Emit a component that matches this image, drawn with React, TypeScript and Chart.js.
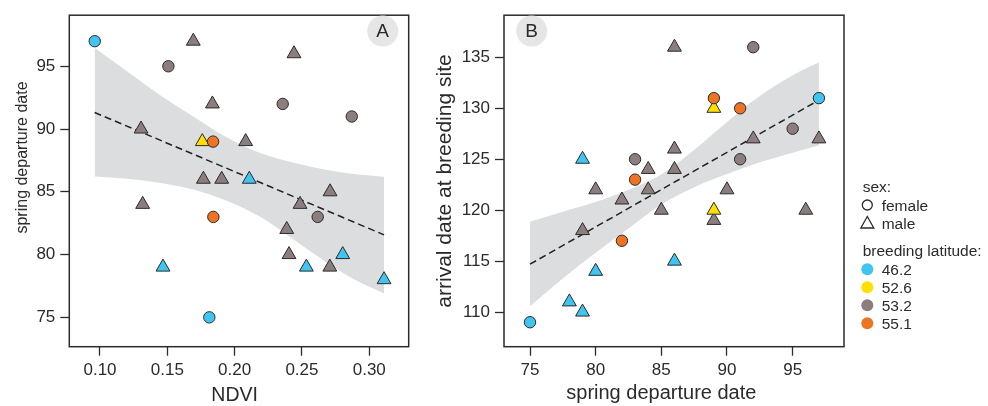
import { useEffect, useRef } from "react";
import { Chart, registerables } from "chart.js";

Chart.register(...registerables);

const FONT = '"Liberation Sans", Arial, Helvetica, sans-serif';
const INK = "#2b2b2b";
const BAND = "#DCDDDF";
const BADGE = "#E6E6E7";

// breeding latitude classes and their fill colours
const LATITUDES = ["46.2", "52.6", "53.2", "55.1"];
const LATITUDE_COLORS = ["#3FC5F0", "#FFDE00", "#8C7E7F", "#EE7423"];

// ---- Panel A: NDVI vs spring departure date ----
const A_NDVI = [0.0961, 0.1693, 0.1508, 0.2441, 0.1835, 0.2357, 0.287, 0.1305, 0.176, 0.184, 0.2082, 0.1768, 0.1904, 0.2109, 0.2709, 0.2486, 0.1317, 0.1842, 0.2617, 0.2387, 0.2404, 0.2803, 0.1468, 0.2533, 0.2707, 0.311, 0.1812];
const A_DEPARTURE = [97, 97, 95, 96, 92, 92, 91, 90, 89, 89, 89, 86, 86, 86, 85, 84, 84, 83, 83, 82, 80, 80, 79, 79, 79, 78, 75];
const A_SEX = ["f", "m", "f", "m", "m", "f", "f", "m", "m", "f", "m", "m", "m", "m", "m", "m", "m", "f", "f", "m", "m", "m", "m", "m", "m", "m", "f"];
const A_LAT = ["46.2", "53.2", "53.2", "53.2", "53.2", "53.2", "53.2", "53.2", "52.6", "55.1", "53.2", "53.2", "53.2", "46.2", "53.2", "53.2", "53.2", "55.1", "53.2", "53.2", "53.2", "46.2", "46.2", "46.2", "53.2", "46.2", "46.2"];
const A_FIT_X = [0.096, 0.311];
const A_FIT_Y = [91.32, 81.57];
const A_BAND_X = [0.096, 0.12, 0.145, 0.17, 0.195, 0.22, 0.245, 0.27, 0.29, 0.311];
const A_BAND_LOW = [86.22, 86.05, 85.71, 85.17, 84.25, 82.95, 81.1, 79.25, 77.95, 76.9];
const A_BAND_HIGH = [96.45, 94.6, 92.67, 90.96, 89.28, 88.05, 87.29, 86.71, 86.4, 86.2];
const A_X_TICKS = [0.1, 0.15, 0.2, 0.25, 0.3];
const A_Y_TICKS = [75, 80, 85, 90, 95];

// ---- Panel B: spring departure date vs arrival date at breeding site ----
const B_DEPARTURE = [86, 92, 89, 89, 91, 97, 95, 92, 97, 86, 79, 83, 91, 84, 86, 83, 80, 84, 90, 82, 85, 89, 89, 96, 79, 82, 86, 80, 78, 79, 75];
const B_ARRIVAL = [136, 136, 130, 131, 130, 131, 128, 127, 127, 126, 125, 125, 125, 124, 124, 123, 122, 122, 122, 121, 120, 119, 120, 120, 118, 117, 115, 114, 111, 110, 109];
const B_SEX = ["m", "f", "m", "f", "f", "f", "f", "m", "m", "m", "m", "f", "f", "m", "m", "f", "m", "m", "m", "m", "m", "m", "m", "m", "m", "f", "m", "m", "m", "m", "f"];
const B_LAT = ["53.2", "53.2", "52.6", "55.1", "55.1", "46.2", "53.2", "53.2", "53.2", "53.2", "46.2", "53.2", "53.2", "53.2", "53.2", "55.1", "53.2", "53.2", "53.2", "53.2", "53.2", "53.2", "52.6", "53.2", "53.2", "55.1", "46.2", "46.2", "46.2", "46.2", "46.2"];
const B_FIT_X = [75, 97];
const B_FIT_Y = [114.7, 130.8];
const B_BAND_X = [75, 77.5, 80, 82.5, 85, 87.5, 90, 92.5, 95, 97];
const B_BAND_LOW = [110.58, 113.3, 115.82, 118.2, 120.55, 122.25, 123.55, 124.7, 125.65, 126.35];
const B_BAND_HIGH = [118.86, 119.85, 120.8, 122.0, 123.5, 125.9, 128.65, 131.2, 133.25, 134.5];
const B_X_TICKS = [75, 80, 85, 90, 95];
const B_Y_TICKS = [110, 115, 120, 125, 130, 135];

const colorOf = (lat: string) => LATITUDE_COLORS[LATITUDES.indexOf(lat)];
const pairs = (xs: number[], ys: number[]) => xs.map((x, i) => ({ x, y: ys[i] }));

type PanelSpec = {
  width: number;
  height: number;
  area: { left: number; top: number; right: number; bottom: number };
  xRange: [number, number];
  yRange: [number, number];
  xTicks: number[];
  yTicks: number[];
  xDecimals: number;
  xs: number[];
  ys: number[];
  sex: string[];
  lat: string[];
  fitX: number[];
  fitY: number[];
  bandX: number[];
  bandLow: number[];
  bandHigh: number[];
  letter: string;
  badge: { x: number; y: number };
  xTitle: { text: string; size: number; baseline: number };
  yTitle: { text: string; size: number; cx: number; cy: number };
};

function buildChart(canvas: HTMLCanvasElement, s: PanelSpec) {
  const decor = {
    id: "panelDecor",
    afterDraw(chart: any) {
      const { ctx, chartArea: a } = chart;
      ctx.save();
      ctx.strokeStyle = INK;
      ctx.lineWidth = 1.5;
      ctx.strokeRect(a.left, a.top, a.right - a.left, a.bottom - a.top);

      ctx.fillStyle = BADGE;
      ctx.beginPath();
      ctx.arc(s.badge.x, s.badge.y, 15.5, 0, Math.PI * 2);
      ctx.fill();
      ctx.fillStyle = INK;
      ctx.font = `19px ${FONT}`;
      ctx.textAlign = "center";
      ctx.textBaseline = "middle";
      ctx.fillText(s.letter, s.badge.x, s.badge.y + 1);

      const xs = chart.scales.x;
      const cx = (xs.getPixelForValue(s.xTicks[0]) + xs.getPixelForValue(s.xTicks[s.xTicks.length - 1])) / 2;
      ctx.font = `${s.xTitle.size}px ${FONT}`;
      ctx.textBaseline = "alphabetic";
      ctx.fillText(s.xTitle.text, cx, s.xTitle.baseline);

      ctx.translate(s.yTitle.cx, s.yTitle.cy);
      ctx.rotate(-Math.PI / 2);
      ctx.font = `${s.yTitle.size}px ${FONT}`;
      ctx.textBaseline = "middle";
      ctx.fillText(s.yTitle.text, 0, 0);
      ctx.restore();
    },
  };

  const tickFont = { family: FONT, size: 17 };
  const grid = {
    display: true,
    drawOnChartArea: false,
    drawTicks: true,
    tickLength: 9,
    tickColor: INK,
    tickWidth: 1.3,
  };

  return new Chart(canvas, {
    type: "scatter",
    data: {
      datasets: [
        {
          type: "line",
          data: pairs(s.bandX, s.bandLow),
          borderWidth: 0,
          pointRadius: 0,
          cubicInterpolationMode: "monotone",
          fill: false,
          order: 3,
        },
        {
          type: "line",
          data: pairs(s.bandX, s.bandHigh),
          borderWidth: 0,
          pointRadius: 0,
          cubicInterpolationMode: "monotone",
          backgroundColor: BAND,
          fill: "-1",
          order: 3,
        },
        {
          type: "line",
          data: pairs(s.fitX, s.fitY),
          borderColor: "#222",
          borderWidth: 1.5,
          borderDash: [7, 4],
          pointRadius: 0,
          fill: false,
          order: 2,
        },
        {
          type: "scatter",
          data: pairs(s.xs, s.ys),
          pointStyle: s.sex.map((g) => (g === "f" ? "circle" : "triangle")),
          pointRadius: s.sex.map((g) => (g === "f" ? 5.7 : 8)),
          backgroundColor: s.lat.map(colorOf),
          borderColor: INK,
          borderWidth: 1,
          order: 1,
        },
      ],
    } as any,
    options: {
      animation: false,
      responsive: false,
      events: [],
      layout: {
        padding: {
          left: 0,
          top: s.area.top,
          right: s.width - s.area.right,
          bottom: 0,
        },
      },
      plugins: { legend: { display: false }, tooltip: { enabled: false } },
      scales: {
        x: {
          type: "linear",
          min: s.xRange[0],
          max: s.xRange[1],
          afterBuildTicks: (sc: any) => {
            sc.ticks = s.xTicks.map((v) => ({ value: v }));
          },
          afterFit: (sc: any) => {
            sc.height = s.height - s.area.bottom;
          },
          ticks: {
            font: tickFont,
            color: INK,
            padding: 4,
            maxRotation: 0,
            autoSkip: false,
            callback: (v: any) => Number(v).toFixed(s.xDecimals),
          },
          grid,
          border: { display: false },
        },
        y: {
          type: "linear",
          min: s.yRange[0],
          max: s.yRange[1],
          afterBuildTicks: (sc: any) => {
            sc.ticks = s.yTicks.map((v) => ({ value: v }));
          },
          afterFit: (sc: any) => {
            sc.width = s.area.left;
          },
          ticks: {
            font: tickFont,
            color: INK,
            padding: 5,
            autoSkip: false,
            callback: (v: any) => String(v),
          },
          grid,
          border: { display: false },
        },
      },
    } as any,
    plugins: [decor],
  });
}

const PANEL_A: PanelSpec = {
  width: 420,
  height: 406,
  area: { left: 69.3, top: 6, right: 408.7, bottom: 346.7 },
  xRange: [0.0772, 0.3293],
  yRange: [72.66, 99.07],
  xTicks: A_X_TICKS,
  yTicks: A_Y_TICKS,
  xDecimals: 2,
  xs: A_NDVI,
  ys: A_DEPARTURE,
  sex: A_SEX,
  lat: A_LAT,
  fitX: A_FIT_X,
  fitY: A_FIT_Y,
  bandX: A_BAND_X,
  bandLow: A_BAND_LOW,
  bandHigh: A_BAND_HIGH,
  letter: "A",
  badge: { x: 382.7, y: 31 },
  xTitle: { text: "NDVI", size: 19.5, baseline: 400.5 },
  yTitle: { text: "spring departure date", size: 16, cx: 22.5, cy: 157.5 },
};

const PANEL_B: PanelSpec = {
  width: 568,
  height: 406,
  area: { left: 84, top: 6, right: 424, bottom: 346.7 },
  xRange: [73.02, 98.91],
  yRange: [106.6, 139.14],
  xTicks: B_X_TICKS,
  yTicks: B_Y_TICKS,
  xDecimals: 0,
  xs: B_DEPARTURE,
  ys: B_ARRIVAL,
  sex: B_SEX,
  lat: B_LAT,
  fitX: B_FIT_X,
  fitY: B_FIT_Y,
  bandX: B_BAND_X,
  bandLow: B_BAND_LOW,
  bandHigh: B_BAND_HIGH,
  letter: "B",
  badge: { x: 111.7, y: 31 },
  xTitle: { text: "spring departure date", size: 20, baseline: 399 },
  yTitle: { text: "arrival date at breeding site", size: 21, cx: 25, cy: 181 },
};

function Panel({ spec, left }: { spec: PanelSpec; left: number }) {
  const ref = useRef<HTMLCanvasElement>(null);
  useEffect(() => {
    if (!ref.current) return;
    const chart = buildChart(ref.current, spec);
    return () => chart.destroy();
  }, [spec]);
  return (
    <canvas
      ref={ref}
      width={spec.width}
      height={spec.height}
      style={{ position: "absolute", left, top: 0, width: spec.width, height: spec.height }}
    />
  );
}

function Legend() {
  const textStyle = { fontFamily: FONT, fontSize: 15.5, fill: INK } as const;
  const rowX = 881.7;
  const markX = 867.3;
  const latRows = [269.3, 287.3, 305.3, 323.3];
  return (
    <svg
      width={988}
      height={406}
      style={{ position: "absolute", left: 0, top: 0, pointerEvents: "none" }}
    >
      <text x={862.7} y={192.2} {...textStyle}>sex:</text>
      <circle cx={markX} cy={205} r={5} fill="none" stroke={INK} strokeWidth={1.3} />
      <text x={rowX} y={210.5} {...textStyle}>female</text>
      <polygon
        points={`${markX},${216.5} ${markX + 6.5},${228} ${markX - 6.5},${228}`}
        fill="none"
        stroke={INK}
        strokeWidth={1.3}
      />
      <text x={rowX} y={228.8} {...textStyle}>male</text>
      <text x={862.7} y={255.5} {...textStyle}>breeding latitude:</text>
      {LATITUDES.map((lat, i) => (
        <g key={lat}>
          <circle cx={markX} cy={latRows[i]} r={6} fill={LATITUDE_COLORS[i]} />
          <text x={rowX} y={latRows[i] + 5.5} {...textStyle}>{lat}</text>
        </g>
      ))}
    </svg>
  );
}

export default function App() {
  return (
    <div style={{ position: "absolute", left: 0, top: 0, width: 988, height: 406, background: "#fff" }}>
      <Panel spec={PANEL_A} left={0} />
      <Panel spec={PANEL_B} left={420} />
      <Legend />
    </div>
  );
}
